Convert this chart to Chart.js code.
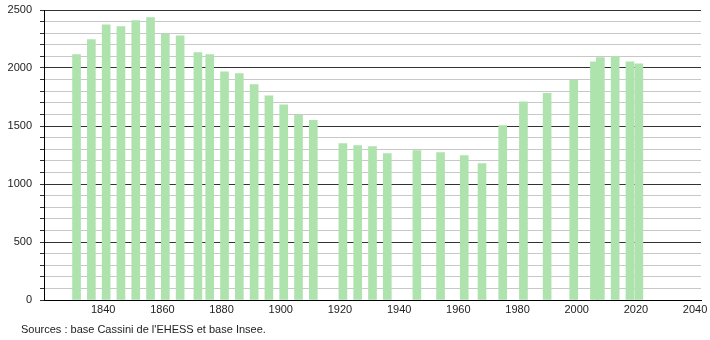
<!DOCTYPE html>
<html>
<head>
<meta charset="utf-8">
<script src="https://cdn.jsdelivr.net/npm/chart.js@4/dist/chart.umd.min.js"></script>
<style>
  html, body { margin: 0; padding: 0; background: #fff; }
  #wrap { position: relative; width: 710px; height: 340px; }
  #src {
    position: absolute; left: 21px; top: 323px;
    font: 11px "Liberation Sans", Arial, sans-serif; color: #222;
  }
</style>
</head>
<body>
<div id="wrap">
  <canvas id="chart" width="710" height="340"></canvas>
  <div id="src">Sources : base Cassini de l'EHESS et base Insee.</div>
</div>
<script>
// census years and population
const years = [1831, 1836, 1841, 1846, 1851, 1856, 1861, 1866, 1872, 1876, 1881, 1886,
  1891, 1896, 1901, 1906, 1911, 1921, 1926, 1931, 1936, 1946, 1954, 1962, 1968,
  1975, 1982, 1990, 1999, 2006, 2008, 2013, 2018, 2021];
const population = [2115, 2246, 2373, 2356, 2408, 2434, 2293, 2278, 2132, 2115, 1968, 1951,
  1856, 1761, 1683, 1592, 1549, 1348, 1331, 1322, 1262, 1288, 1271, 1245, 1176,
  1503, 1708, 1781, 1893, 2054, 2089, 2100, 2054, 2037];
const xTicks = [1840, 1860, 1880, 1900, 1920, 1940, 1960, 1980, 2000, 2020, 2040];

const font = { family: '"Liberation Sans", Arial, sans-serif', size: 11 };

new Chart(document.getElementById('chart'), {
  type: 'bar',
  data: {
    datasets: [{
      data: years.map((y, i) => ({ x: y, y: population[i] })),
      backgroundColor: '#aee3ae',
      barThickness: 8
    }]
  },
  options: {
    responsive: false,
    devicePixelRatio: 1,
    animation: false,
    layout: { padding: { top: 10, right: 9, left: 0, bottom: 0 } },
    plugins: { legend: { display: false }, tooltip: { enabled: false } },
    scales: {
      x: {
        type: 'linear',
        offset: false,
        min: 1820,
        max: 2042,
        afterBuildTicks: s => { s.ticks = xTicks.map(v => ({ value: v })); },
        afterFit: s => { s.height = 40; s.paddingLeft = 0; s.paddingRight = 0; },
        grid: { display: false, drawTicks: false, offset: false },
        border: { display: true, color: '#000', width: 1 },
        ticks: { font, color: '#222', padding: 3, maxRotation: 0, autoSkip: false,
          callback: v => String(v) }
      },
      y: {
        min: 0,
        max: 2500,
        afterFit: s => { s.width = 44; s.paddingTop = 0; s.paddingBottom = 0; },
        grid: {
          color: c => (c.tick.value % 500 === 0 ? '#333' : '#c8c8c8'),
          tickColor: '#333',
          tickLength: 4
        },
        border: { display: true, color: '#000', width: 1 },
        ticks: {
          stepSize: 100,
          font, color: '#222', padding: 8, autoSkip: false,
          callback: v => (v % 500 === 0 ? v : '')
        }
      }
    }
  }
});
</script>
</body>
</html>
